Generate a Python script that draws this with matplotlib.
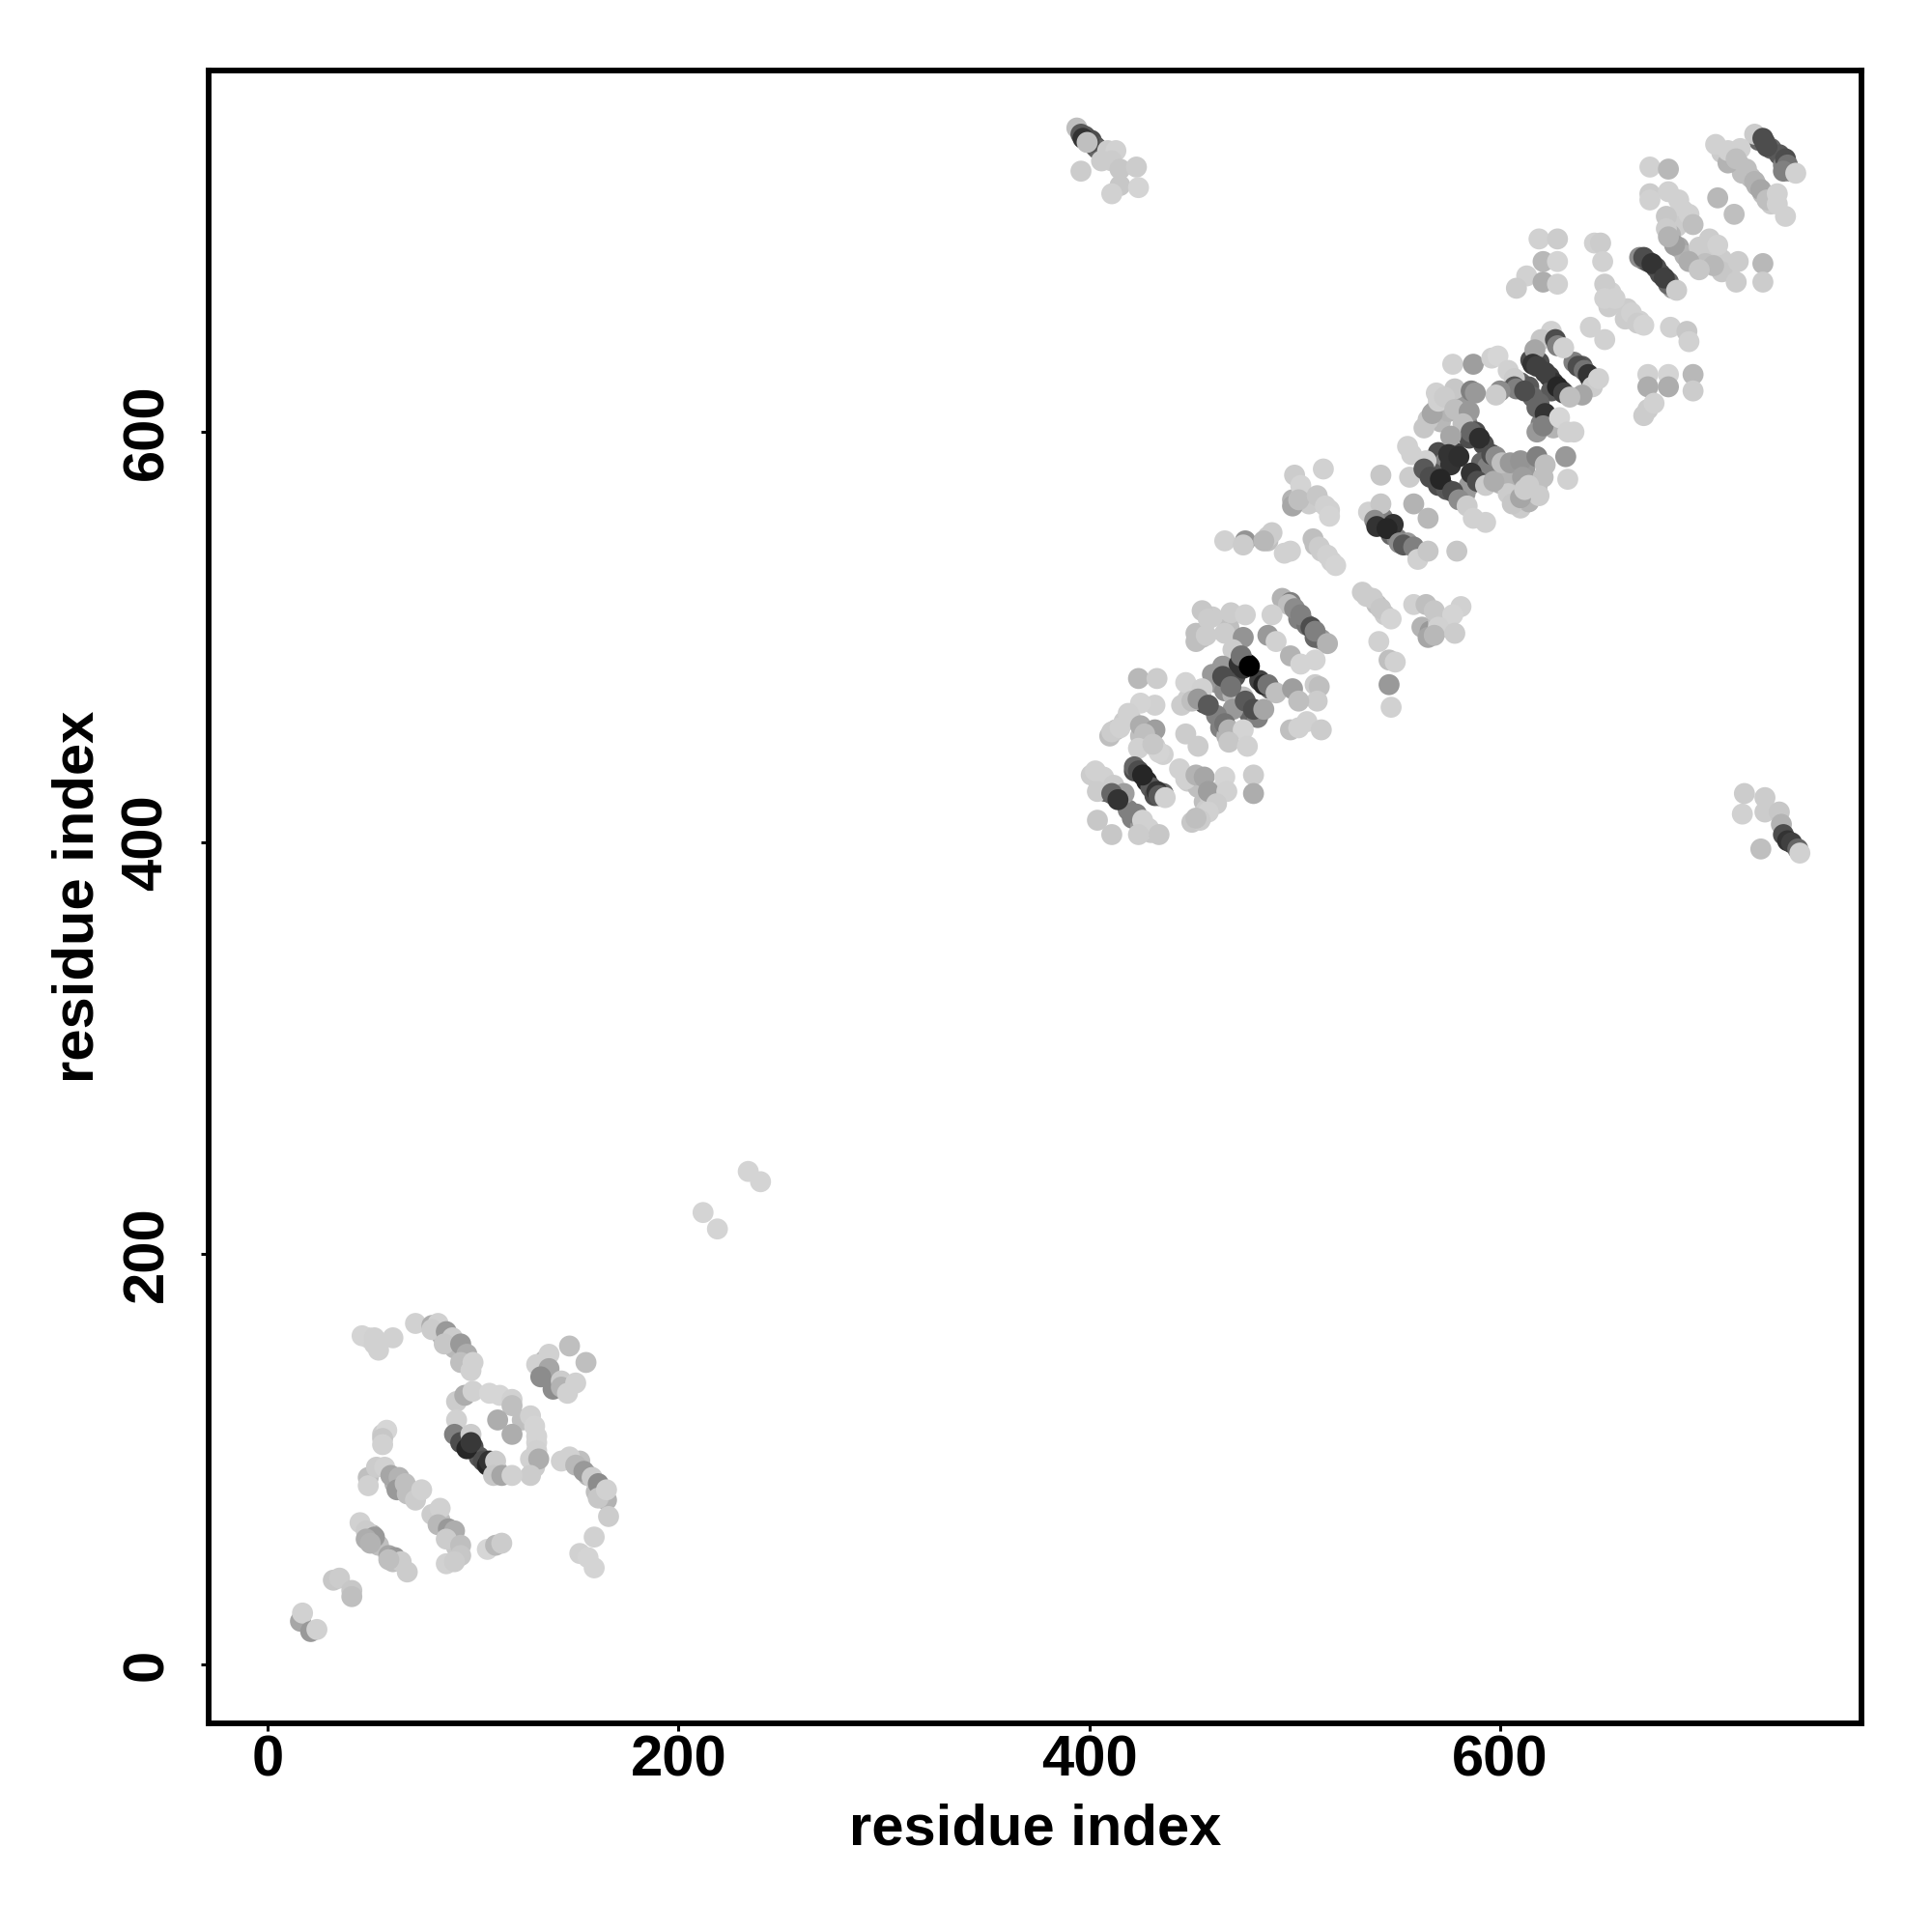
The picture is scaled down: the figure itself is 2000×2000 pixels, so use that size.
"""
Contact map: residue index against residue index, grey shows contact strength.
OUT out.png
"""
import matplotlib
matplotlib.use("Agg")
import matplotlib.pyplot as plt

plt.rcParams["font.family"] = ["Liberation Sans", "DejaVu Sans"]
plt.rcParams["font.weight"] = "bold"

# values, one cluster at a time, in drawing order
under_x = [85, 91, 98, 94, 96, 100, 103, 110, 112, 135, 136, 141, 146, 152, 156, 160, 163, 62, 66, 70,
           84, 90, 92, 51, 54, 61, 56, 130, 128,
           398, 401, 404, 407, 410,
           726, 729, 732, 736, 738, 741, 708, 713, 716, 718, 722, 725, 728, 732,
           670, 672, 676, 678, 682, 684, 689, 686, 683, 687, 690, 697, 702, 708, 712, 700, 708,
           615, 619, 624, 626, 630, 625, 636, 640, 644, 610, 614, 616, 619, 623, 620, 626,
           580, 583, 584, 588, 585, 592, 570, 573, 576, 578, 585, 583, 570, 574, 567, 591, 594,
           600, 604, 608, 612, 610, 614, 618, 604, 568, 571, 563, 575, 543, 547, 550, 555, 548,
           468, 471, 475, 477, 483, 488, 460, 462, 466, 470, 475, 478, 482, 470, 462, 464, 467,
           453, 456, 451, 494, 498, 502, 506, 513, 510,
           422, 428, 430, 432, 436, 405, 408, 411, 415, 419, 421, 425, 430, 401, 407,
           417, 420, 413, 410, 425, 428, 432, 436, 448, 453, 456, 459, 463, 455, 450, 457,
           468, 460, 452, 452, 448, 445,
           562, 566, 570, 574, 535, 540, 544, 499, 503, 507, 512, 517, 487, 489, 510, 513, 518,
           654, 653, 662, 668]
under_y = [160, 154, 146, 110, 107, 106, 101, 96, 94, 148, 141, 137, 135, 99, 92, 84, 82, 88, 86, 84,
           70, 62, 57, 63, 58, 50, 112, 96, 100,
           744, 742, 738, 735, 733,
           742, 741, 738, 735, 730, 727, 736, 733, 731, 726, 724, 720, 716, 711,
           684, 683, 680, 677, 673, 670, 708, 700, 696, 690, 686, 690, 686, 684, 680, 682, 678,
           635, 634, 627, 624, 620, 620, 634, 632, 626, 624, 622, 617, 614, 607, 604, 602,
           615, 607, 604, 600, 597, 594, 590, 585, 584, 590, 574, 570, 574, 572, 580, 585, 583,
           575, 580, 573, 582, 563, 566, 573, 570, 610, 605, 602, 610, 558, 550, 548, 546, 555,
           483, 481, 485, 487, 479, 475, 482, 478, 474, 472, 471, 463, 461, 465, 462, 456, 452,
           471, 468, 474, 519, 517, 509, 506, 499, 500,
           435, 430, 427, 423, 424, 428, 425, 424, 422, 416, 412, 408, 405, 433, 430,
           459, 461, 455, 452, 452, 449, 447, 443, 430, 427, 420, 422, 425, 413, 410, 416,
           505, 510, 498, 502, 470, 467,
           505, 503, 508, 505, 520, 516, 511, 567, 569, 565, 566, 562, 547, 551, 545, 542, 537,
           668, 661, 660, 654]
under_g = [.7, .72, .8, .4, .25, .3, .35, .6, .7, .7, .6, .7, .82, .75, .7, .75, .72, .7, .65, .78,
           .75, .7, .78, .7, .75, .75, .8, .8, .82,
           .35, .3, .4, .7, .8,
           .4, .3, .4, .35, .5, .6, .8, .78, .75, .75, .75, .7, .75, .8,
           .4, .3, .3, .3, .4, .6, .82, .8, .7, .65, .7, .8, .8, .8, .8, .75, .78,
           .3, .3, .25, .2, .3, .35, .5, .35, .35, .4, .35, .4, .4, .4, .5, .7,
           .6, .6, .5, .3, .3, .3, .3, .5, .2, .25, .6, .6, .3, .35, .35, .4, .5,
           .7, .7, .7, .6, .8, .7, .75, .8, .7, .72, .78, .7, .5, .4, .5, .6, .2,
           .4, .3, .2, .1, .25, .4, .6, .6, .55, .7, .75, .4, .5, .6, .5, .5, .7,
           .5, .3, .6, .7, .5, .5, .45, .6, .4,
           .3, .15, .35, .3, .4, .6, .4, .3, .3, .5, .5, .6, .78, .8, .8,
           .8, .8, .75, .75, .75, .7, .8, .82, .8, .75, .75, .8, .82, .75, .78, .8,
           .75, .8, .75, .75, .8, .8,
           .7, .6, .75, .8, .8, .75, .8, .7, .75, .8, .8, .82, .75, .8, .75, .8, .82,
           .82, .8, .8, .82]

low_x = [46, 49, 52, 54, 61, 52,
         72, 80, 83, 80, 87, 90, 86, 94, 97, 94, 100, 99,
         92, 96, 100, 108, 113, 119, 119, 124, 128, 130, 131, 131, 131, 132, 128,
         112, 119,
         92, 91, 94, 97, 99, 99, 105, 107, 108, 111, 110, 114, 119,
         147, 155, 137, 131, 137, 133, 139, 143, 143, 146, 150,
         143, 147, 150, 154, 158, 161, 165, 161, 165, 166,
         58, 56, 56,
         49, 49, 53, 57, 60, 64, 63, 67, 68, 72, 75,
         80, 84, 83, 88, 91, 87, 94, 94, 87, 91,
         107, 111, 114,
         45, 48, 52, 48, 50, 59, 62, 65, 68, 59,
         159, 152, 156, 159,
         32, 35, 41, 41,
         16, 17, 21, 24]
low_y = [160, 159, 159, 153, 159, 156,
         166, 165, 166, 163, 162, 159, 156, 156, 151, 147, 147, 143,
         128, 131, 133, 132, 131, 129, 126, 119, 121, 116, 111, 108, 104, 100, 92,
         119, 112,
         119, 112, 108, 105, 112, 108, 99, 97, 99, 99, 92, 92, 92,
         155, 147, 151, 146, 144, 140, 134, 138, 135, 132, 137,
         99, 101, 97, 94, 91, 88, 80, 81, 85, 72,
         114, 110, 107,
         91, 87, 96, 96, 92, 91, 85, 88, 83, 80, 85,
         73, 76, 68, 66, 65, 61, 58, 53, 49, 50,
         56, 58, 59,
         69, 65, 62, 61, 59, 53, 52, 50, 45, 51,
         62, 54, 52, 47,
         41, 42, 36, 33,
         21, 25, 16, 17]
low_g = [.83, .83, .82, .82, .82, .82,
         .82, .68, .82, .8, .6, .8, .78, .6, .68, .75, .82, .82,
         .8, .68, .82, .84, .84, .82, .75, .75, .82, .83, .83, .83, .82, .68, .8,
         .68, .68,
         .82, .5, .3, .15, .8, .22, .3, .15, .2, .8, .78, .65, .82,
         .75, .75, .82, .82, .65, .55, .55, .8, .7, .82, .82,
         .82, .82, .72, .6, .8, .55, .7, .78, .82, .8,
         .84, .78, .82,
         .75, .82, .8, .82, .65, .7, .6, .75, .75, .8, .82,
         .8, .82, .72, .6, .68, .8, .75, .78, .82, .8,
         .84, .72, .8,
         .82, .8, .6, .68, .7, .65, .6, .8, .8, .75,
         .82, .82, .83, .83,
         .78, .8, .78, .75,
         .65, .82, .6, .82]

gap_x = [212, 219, 234, 240]
gap_y = [220, 212, 240, 235]
gap_g = [.83, .83, .83, .83]

corner_x = [394, 396, 397, 403, 405, 400, 399, 409, 413, 406, 411, 415, 423, 396, 415, 411, 424]
corner_y = [748, 745, 743, 739, 737, 741, 741, 737, 737, 732, 732, 728, 729, 727, 720, 716, 719]
corner_g = [.75, .35, .2, .35, .4, .3, .75, .8, .82, .8, .8, .78, .8, .8, .78, .82, .83]

side_x = [719, 729, 718, 729, 736, 727, 737, 738, 740, 742, 745, 746]
side_y = [424, 422, 414, 415, 415, 397, 409, 404, 401, 400, 397, 395]
side_g = [.8, .8, .82, .8, .78, .75, .7, .3, .2, .25, .4, .82]

top_x = [724, 728, 730, 739, 740, 738, 744,
         711, 705, 711, 717, 715, 720, 724, 727, 730, 735, 735, 739, 706, 714,
         673, 682, 673, 673, 682, 687, 692, 681, 681, 694, 685, 682, 702, 706,
         716, 704, 692, 697, 728, 715, 728,
         668, 670, 674, 682, 680, 686,
         619, 628, 646, 649, 650, 621, 628, 613, 608, 621, 628,
         651, 651, 656, 661, 664, 667, 670,
         644, 651, 683, 691, 692,
         672, 682, 694, 672, 682, 694, 670, 672, 675]
top_y = [745, 743, 739, 733, 730, 727, 726,
         731, 740, 737, 738, 733, 728, 722, 718, 713, 716, 711, 705, 714, 706,
         729, 728, 716, 713, 717, 713, 706, 705, 699, 701, 691, 695, 694, 691,
         683, 681, 683, 679, 682, 673, 673,
         685, 685, 682, 672, 675, 669,
         694, 694, 692, 692, 683, 683, 683, 676, 670, 673, 672,
         672, 665, 665, 655, 658, 653, 652,
         651, 645, 651, 649, 644,
         628, 628, 628, 622, 622, 620, 608, 611, 614]
top_g = [.8, .3, .3, .3, .45, .5, .82,
         .7, .82, .82, .82, .75, .75, .7, .65, .75, .82, .82, .82, .72, .75,
         .82, .72, .8, .82, .82, .82, .82, .78, .8, .75, .62, .7, .8, .82,
         .8, .72, .68, .78, .72, .8, .8,
         .55, .3, .2, .4, .25, .8,
         .82, .8, .82, .8, .82, .72, .83, .82, .8, .68, .82,
         .8, .82, .82, .8, .82, .8, .83,
         .82, .82, .82, .78, .82,
         .82, .83, .72, .68, .68, .8, .8, .8, .82]

dense_x = [625, 620, 617, 627, 628, 631, 616, 618, 622, 628, 631, 638, 641, 643, 645, 648, 640, 634,
           577, 587, 596, 599, 604, 607, 607, 608, 612, 600, 598, 618, 622, 618, 621, 629, 633, 636,
           569, 578, 586, 588, 565, 567, 570, 573, 578, 585, 582, 586, 590, 576,
           555, 557, 564, 556, 542, 563, 566, 571, 575, 580, 586, 589, 577, 580, 584, 587, 593, 593, 597,
           596, 598, 601, 605, 610, 611, 618, 622, 621, 632, 633, 614, 619, 606, 610, 612,
           536, 542, 539, 540, 545, 551, 553, 558, 560, 565, 579, 558, 565]
dense_y = [649, 645, 640, 645, 642, 641, 633, 632, 629, 622, 619, 632, 630, 628, 622, 626, 618, 617,
           633, 633, 636, 637, 630, 626, 622, 621, 620, 620, 618, 612, 609, 600, 603, 607, 600, 600,
           619, 621, 620, 619, 606, 609, 615, 617, 611, 610, 604, 600, 597, 598,
           593, 589, 586, 578, 579, 582, 578, 577, 589, 588, 580, 576, 571, 567, 564, 558, 574, 556, 576,
           589, 588, 585, 585, 586, 578, 588, 584, 578, 588, 577, 574, 569, 565, 568, 572,
           561, 565, 557, 554, 553, 546, 545, 544, 538, 542, 542, 565, 558]
dense_g = [.82, .78, .65, .3, .5, .82, .2, .25, .25, .15, .25, .3, .45, .2, .8, .82, .65, .75,
           .82, .62, .82, .84, .82, .8, .35, .5, .3, .55, .8, .4, .2, .6, .5, .84, .82, .82,
           .82, .78, .5, .6, .78, .65, .82, .8, .75, .6, .75, .4, .18, .65,
           .82, .82, .82, .8, .78, .35, .3, .15, .2, .18, .2, .3, .3, .55, .8, .82, .8, .82, .68,
           .3, .55, .75, .6, .58, .62, .5, .75, .75, .6, .82, .8, .8, .78, .65, .8,
           .82, .78, .55, .2, .15, .55, .35, .5, .82, .78, .78, .7, .72]

mid_x = [466, 476, 475, 487, 485, 495, 498,
         509, 512, 516, 520,
         500, 514, 503, 499, 502, 511, 515, 517,
         533, 538, 542, 547,
         558, 564, 568, 581, 577, 570, 565, 568, 578,
         541, 546, 549, 546, 547,
         497, 500, 503, 489, 508, 510, 516, 487, 491, 498, 503, 510,
         455, 458, 455, 457, 469, 476, 466, 475, 470, 465, 473, 474, 478,
         485, 487, 491, 499, 510, 512, 511, 502, 506, 513, 498, 502,
         465, 469, 447, 455, 450, 453, 458, 476, 480, 485, 466, 468, 475, 468, 477, 447, 453,
         424, 433, 432, 425, 419, 411, 415, 425, 432, 427, 424, 434, 431,
         403, 407, 404, 412, 417, 411, 414, 422, 424, 426, 433, 434, 437,
         423, 426, 429, 434, 424, 404, 411,
         444, 447, 452, 456, 458, 466, 467, 480, 480, 462, 458, 454, 452]
mid_y = [547, 547, 545, 549, 547, 541, 542,
         548, 544, 540, 535,
         579, 582, 574, 564, 567, 569, 564, 559,
         522, 519, 514, 509,
         516, 516, 513, 515, 511, 505, 500, 501, 502,
         498, 489, 488, 477, 466,
         516, 514, 511, 511, 505, 503, 497, 501, 498, 491, 487, 489,
         513, 509, 500, 501, 512, 511, 502, 500, 494, 486, 487, 491, 486,
         477, 477, 473, 475, 477, 476, 469, 469, 459, 455, 455, 456,
         481, 476, 478, 475, 469, 470, 467, 469, 465, 465, 458, 455, 455, 449, 447, 453, 447,
         480, 480, 467, 468, 463, 454, 456, 457, 455, 453, 446, 444, 448,
         435, 432, 425, 428, 424, 424, 421, 437, 435, 433, 425, 423, 422,
         414, 411, 407, 404, 404, 411, 404,
         436, 431, 433, 432, 425, 432, 425, 433, 424, 419, 415, 411, 412]
mid_g = [.82, .58, .8, .8, .72, .82, .82,
         .75, .8, .82, .83,
         .8, .82, .83, .65, .75, .78, .82, .83,
         .8, .8, .78, .83,
         .82, .75, .78, .82, .83, .82, .65, .72, .8,
         .82, .75, .82, .6, .82,
         .75, .55, .5, .82, .3, .5, .7, .6, .82, .7, .83, .83,
         .78, .8, .75, .8, .8, .82, .8, .58, .8, .6, .2, .45, 0,
         .15, .45, .75, .62, .8, .75, .8, .75, .82, .8, .75, .82,
         .3, .45, .83, .82, .75, .6, .35, .35, .3, .65, .45, .7, .83, .78, .82, .8, .8,
         .72, .8, .82, .83, .82, .8, .82, .68, .62, .75, .82, .83, .78,
         .82, .82, .8, .8, .62, .4, .2, .4, .3, .15, .2, .35, .82,
         .5, .82, .82, .78, .8, .78, .78,
         .82, .82, .7, .65, .62, .83, .82, .8, .68, .8, .82, .8, .75]

tick_vals = [0, 200, 400, 600]

fig = plt.figure(figsize=(20, 20), dpi=100)
ax = fig.add_axes([0.108, 0.108, 0.8555, 0.8555])
for xs, ys, gs in [(under_x, under_y, under_g), (low_x, low_y, low_g), (gap_x, gap_y, gap_g),
                   (corner_x, corner_y, corner_g), (side_x, side_y, side_g), (top_x, top_y, top_g),
                   (dense_x, dense_y, dense_g), (mid_x, mid_y, mid_g)]:
    ax.scatter(xs, ys, s=245, c=[str(g) for g in gs], linewidths=0, zorder=2)

ax.set_xlim(-28.7, 776)
ax.set_ylim(-28.7, 776)
ax.set_xticks(tick_vals)
ax.set_yticks(tick_vals)
ax.tick_params(axis="x", length=6, width=2.2, labelsize=43, pad=2)
ax.tick_params(axis="y", length=6, width=2.2, labelsize=43, pad=20)
for lab in ax.get_yticklabels():
    lab.set_rotation(90)
    lab.set_va("center")
for sp in ax.spines.values():
    sp.set_linewidth(4.2)
ax.set_xlabel("residue index", fontsize=43, fontweight="bold", labelpad=12)
ax.set_ylabel("residue index", fontsize=43, fontweight="bold", labelpad=12)
fig.savefig("out.png", dpi=100)
